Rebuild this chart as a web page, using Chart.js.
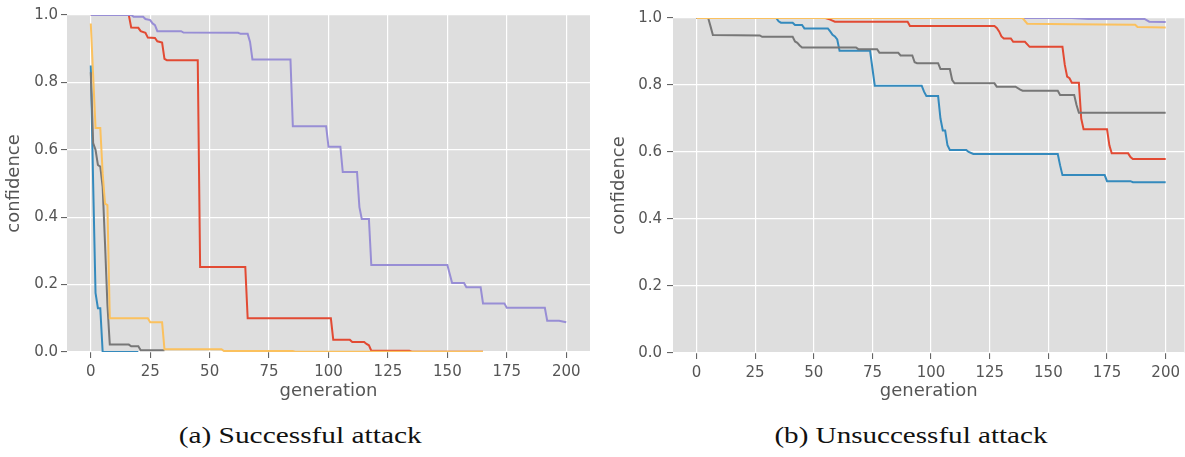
<!DOCTYPE html>
<html>
<head>
<meta charset="utf-8">
<script src="https://cdn.jsdelivr.net/npm/chart.js@4"></script>
<style>
  html, body { margin:0; padding:0; background:#fff; width:1185px; height:457px; overflow:hidden; }
  canvas { position:absolute; top:0; }
  #cLeft { left:0; }
  #cRight { left:600px; }
  .caption { position:absolute; top:423px; font-family:"Liberation Serif", "Times New Roman", Times, serif;
             font-size:23px; font-weight:normal; color:#111; white-space:nowrap; transform-origin:center; }
</style>
</head>
<body>
<canvas id="cLeft" width="595" height="410"></canvas>
<canvas id="cRight" width="585" height="410"></canvas>
<div class="caption" id="capA">(a) Successful attack</div>
<div class="caption" id="capB">(b) Unsuccessful attack</div>
<script>
/* confidence vs generation, two panels (ggplot look) */

const X_TICKS = [0, 25, 50, 75, 100, 125, 150, 175, 200];
const Y_TICKS = [0, 0.2, 0.4, 0.6, 0.8, 1.0];

const COLORS = { red:'#E24A33', blue:'#348ABD', purple:'#988ED5', gray:'#777777', yellow:'#FBC15E' };
const PLOT_BG = '#dedede';
const INK = '#555555';

// (a) successful attack — [generation, confidence]
const A_RED = [[0,1],[16,1],[17,0.963],[20,0.962],[21,0.952],[23,0.947],[24,0.933],[27,0.932],[28,0.922],
  [30,0.918],[31,0.87],[32,0.866],[45,0.866],[46,0.252],[65,0.252],[66,0.1],[101,0.1],[102,0.036],[109,0.036],
  [110,0.03],[115,0.03],[116,0.024],[117,0.02],[118,0.004],[134,0.004],[135,0.001],[165,0.001]];
const A_BLUE = [[0,0.85],[1,0.5],[2,0.175],[3,0.13],[4,0.13],[5,0],[20,0]];
const A_PURPLE = [[0,1],[17,1],[18,0.995],[22,0.995],[23,0.988],[25,0.985],[26,0.975],[27,0.97],[28,0.952],
  [38,0.952],[39,0.948],[62,0.947],[63,0.944],[66,0.944],[67,0.92],[68,0.868],[84,0.868],[85,0.67],[99,0.67],
  [100,0.609],[105,0.609],[106,0.534],[112,0.534],[113,0.43],[114,0.395],[117,0.395],[118,0.258],[150,0.258],
  [152,0.205],[157,0.205],[158,0.192],[164,0.192],[165,0.144],[174,0.144],[175,0.131],[191,0.131],[192,0.093],
  [197,0.093],[200,0.088]];
const A_GRAY = [[0,0.83],[1,0.62],[2,0.6],[3,0.555],[4,0.55],[5,0.49],[6,0.32],[7,0.14],[8,0.022],[16,0.022],
  [17,0.017],[20,0.017],[21,0.005],[31,0.005]];
const A_YELLOW = [[0,0.975],[1,0.82],[2,0.665],[4,0.665],[5,0.53],[6,0.44],[7,0.436],[8,0.1],[24,0.1],[25,0.088],
  [30,0.088],[31,0.008],[55,0.008],[56,0.003],[85,0.003],[86,0.001],[165,0.001]];

// (b) unsuccessful attack
const B_RED = [[0,1],[55,1],[57,0.995],[59,0.989],[90,0.989],[91,0.976],[127,0.976],[128,0.97],[129,0.96],
  [130,0.945],[131,0.939],[134,0.939],[135,0.929],[140,0.929],[142,0.914],[156,0.914],[157,0.86],[158,0.825],
  [159,0.82],[160,0.807],[163,0.807],[164,0.7],[165,0.668],[175,0.668],[176,0.62],[177,0.596],[184,0.596],
  [185,0.585],[186,0.579],[200,0.579]];
const B_BLUE = [[0,1],[34,1],[35,0.99],[36,0.986],[41,0.986],[42,0.979],[45,0.979],[46,0.969],[56,0.969],
  [57,0.96],[58,0.95],[59,0.945],[60,0.936],[61,0.902],[74,0.902],[75,0.85],[76,0.798],[96,0.798],[97,0.78],
  [98,0.767],[103,0.767],[104,0.7],[105,0.664],[106,0.664],[107,0.62],[108,0.606],[115,0.606],[116,0.6],
  [118,0.594],[154,0.594],[155,0.56],[156,0.531],[174,0.531],[175,0.513],[185,0.513],[186,0.51],[200,0.51]];
const B_PURPLE = [[0,1],[160,1],[167,0.997],[191,0.997],[193,0.989],[200,0.988]];
const B_GRAY = [[0,1],[5,1],[6,0.975],[7,0.949],[27,0.948],[28,0.944],[41,0.944],[42,0.93],[43,0.926],
  [44,0.918],[45,0.912],[68,0.912],[69,0.907],[77,0.907],[78,0.896],[86,0.896],[87,0.888],[92,0.888],
  [93,0.868],[94,0.865],[103,0.865],[104,0.848],[108,0.848],[109,0.815],[110,0.805],[127,0.805],[128,0.795],
  [136,0.795],[138,0.786],[139,0.783],[154,0.783],[155,0.77],[161,0.77],[162,0.74],[163,0.717],[200,0.717]];
const B_YELLOW = [[0,1],[139,1],[141,0.983],[160,0.981],[187,0.98],[188,0.973],[200,0.972]];

const plotBg = {
  id:'plotBg',
  beforeDraw(chart){
    const {ctx, chartArea:a} = chart;
    ctx.save();
    ctx.fillStyle = PLOT_BG;
    ctx.fillRect(a.left, a.top, a.right - a.left, a.bottom - a.top);
    ctx.restore();
  }
};

function series(pts, color, order){
  return {
    data: pts.map(([x, y]) => ({x, y})),
    borderColor: color, borderWidth: 2, pointRadius: 0, tension: 0,
    fill: false, clip: 0, order
  };
}

function makePanel(id, sets, cfg){
  const tickFont = {family:'DejaVu Sans', size:15};
  const titleFont = {family:'DejaVu Sans', size:18};
  const grid = {color:'#ffffff', lineWidth:1.2, tickColor:INK, tickLength:6, tickWidth:1};
  return new Chart(document.getElementById(id), {
    type:'line',
    data:{datasets:[
      series(sets[0], COLORS.red, 5),
      series(sets[1], COLORS.blue, 4),
      series(sets[2], COLORS.purple, 3),
      series(sets[3], COLORS.gray, 2),
      series(sets[4], COLORS.yellow, 1)
    ]},
    plugins:[plotBg],
    options:{
      responsive:false, animation:false, devicePixelRatio:1,
      layout:{padding:{left:0, right:cfg.padRight, top:cfg.padTop, bottom:0}},
      plugins:{legend:{display:false}, tooltip:{enabled:false}},
      scales:{
        x:{
          type:'linear', min:-10, max:cfg.xMax,
          border:{display:false}, grid,
          afterBuildTicks: s => { s.ticks = X_TICKS.map(v => ({value:v})); },
          afterFit: s => { s.height = cfg.xAxisH; },
          ticks:{font:tickFont, color:INK, padding:5, maxRotation:0, autoSkip:false},
          title:{display:true, text:'generation', font:titleFont, color:INK, padding:{top:0, bottom:8}}
        },
        y:{
          min:0, max:1,
          border:{display:false}, grid,
          afterBuildTicks: s => { s.ticks = Y_TICKS.map(v => ({value:v})); },
          afterFit: s => { s.width = cfg.yAxisW; },
          ticks:{font:tickFont, color:INK, padding:cfg.yPad, callback: v => v.toFixed(1)},
          title:{display:true, text:'confidence', font:titleFont, color:INK, padding:{top:cfg.yTitlePad, bottom:0}}
        }
      }
    }
  });
}

makePanel('cLeft', [A_RED, A_BLUE, A_PURPLE, A_GRAY, A_YELLOW],
  {padRight:5, padTop:15, xMax:210, xAxisH:58, yAxisW:67, yPad:3, yTitlePad:4});
makePanel('cRight', [B_RED, B_BLUE, B_PURPLE, B_GRAY, B_YELLOW],
  {padRight:0, padTop:18, xMax:208, xAxisH:57, yAxisW:73, yPad:5, yTitlePad:9});

// captions: Computer Modern is wider than Times, stretch to the measured width
function placeCaption(id, cx, width){
  const el = document.getElementById(id);
  const w = el.getBoundingClientRect().width;
  el.style.left = (cx - w / 2) + 'px';
  el.style.transform = 'scaleX(' + (width / w) + ')';
}
placeCaption('capA', 300, 243);
placeCaption('capB', 911, 273);
</script>
</body>
</html>
